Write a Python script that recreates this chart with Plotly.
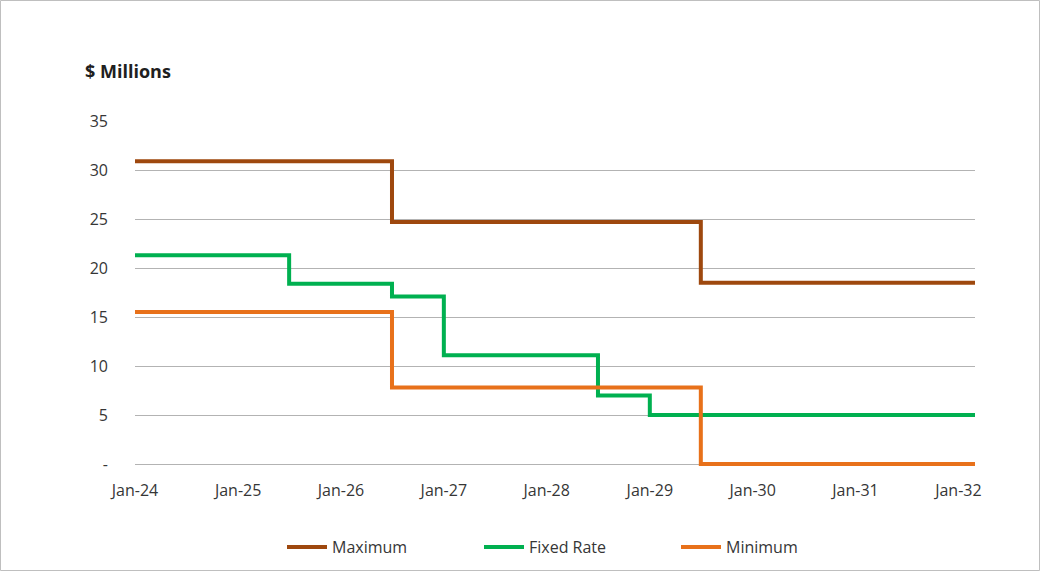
import plotly.graph_objects as go

# Step change dates and values
max_dates = ["2024-01-01", "2026-07-01", "2029-07-01", "2032-02-29"]
max_vals = [30.9, 24.7, 18.5, 18.5]

fixed_dates = ["2024-01-01", "2025-07-01", "2026-07-01", "2027-01-01", "2028-07-01", "2029-01-01", "2032-02-29"]
fixed_vals = [21.3, 18.4, 17.1, 11.1, 7.0, 5.0, 5.0]

min_dates = ["2024-01-01", "2026-07-01", "2029-07-01", "2032-02-29"]
min_vals = [15.5, 7.8, 0.0, 0.0]

tick_dates = ["2024-01-01", "2025-01-01", "2026-01-01", "2027-01-01", "2028-01-01",
              "2029-01-01", "2030-01-01", "2031-01-01", "2032-01-01"]
tick_labels = ["Jan-24", "Jan-25", "Jan-26", "Jan-27", "Jan-28", "Jan-29", "Jan-30", "Jan-31", "Jan-32"]
y_ticks = [0, 5, 10, 15, 20, 25, 30, 35]
y_labels = ["-", "5", "10", "15", "20", "25", "30", "35"]

FONT = "Open Sans"
FS = 16
TXT = "#363636"
fig = go.Figure()
fig.add_trace(go.Scatter(x=max_dates, y=max_vals, name="Maximum", mode="lines",
                         line=dict(color="#9E480E", width=4, shape="hv")))
fig.add_trace(go.Scatter(x=fixed_dates, y=fixed_vals, name="Fixed Rate", mode="lines",
                         line=dict(color="#00B050", width=4, shape="hv")))
fig.add_trace(go.Scatter(x=min_dates, y=min_vals, name="Minimum", mode="lines",
                         line=dict(color="#E8711A", width=4, shape="hv")))

L, R, T, B = 135, 66, 121, 106
W, H = 1041, 572
pw, ph = W - L - R, H - T - B
ymin = -2.0 * 35 / (ph - 2.0)  # extend plot 2px below zero so the zero line is not clipped

fig.update_layout(
    width=W, height=H,
    margin=dict(l=L, r=R, t=T, b=B, autoexpand=False),
    paper_bgcolor="white", plot_bgcolor="white",
    font=dict(family=FONT, size=FS, color=TXT),
    xaxis=dict(range=["2024-01-01", "2032-02-29"], tickvals=tick_dates, ticktext=tick_labels,
               showgrid=False, zeroline=False, showline=False, ticks="",
               ticklabelstandoff=13, tickfont=dict(size=FS, color=TXT)),
    yaxis=dict(range=[ymin, 35], tickvals=y_ticks, ticktext=y_labels, showgrid=True,
               gridcolor="#B3B3B3", gridwidth=1, zeroline=False, showline=False,
               ticks="", ticklabelstandoff=26, tickfont=dict(size=FS, color=TXT)),
    showlegend=True,
    legend=dict(orientation="h", x=(282 - L) / pw, xanchor="left", y=-(547 - (T + ph)) / ph,
                yanchor="middle", entrywidth=142, entrywidthmode="pixels",
                font=dict(size=FS, color=TXT), itemwidth=40),
    annotations=[dict(text="<b>$ Millions</b>", xref="paper", yref="paper",
                      x=(83 - L) / pw, y=(T + ph - 71) / ph, xanchor="left", yanchor="middle",
                      showarrow=False, font=dict(size=18, color="#202020", family=FONT))],
    shapes=[dict(type="rect", xref="paper", yref="paper",
                 x0=(0.5 - L) / pw, x1=(W - 1.5 - L) / pw,
                 y0=(T + ph - (H - 1.5)) / ph, y1=(T + ph - 0.5) / ph,
                 line=dict(color="#BFBFBF", width=1), layer="below")],
)

fig.write_html("out.html")
